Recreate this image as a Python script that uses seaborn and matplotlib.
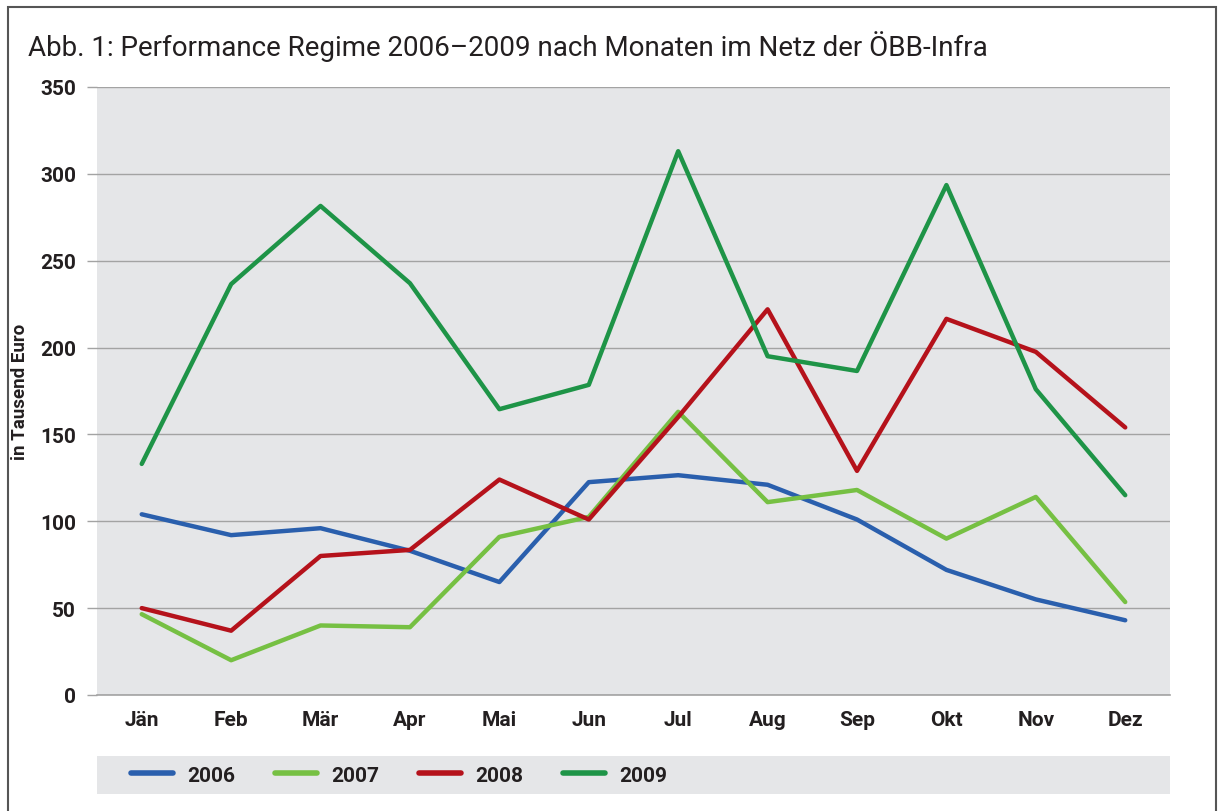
import numpy as np
import pandas as pd
import seaborn as sns
import matplotlib.pyplot as plt
from matplotlib.lines import Line2D
from matplotlib.patches import Rectangle

# values (in Tausend Euro)
months = ['Jän', 'Feb', 'Mär', 'Apr', 'Mai', 'Jun', 'Jul', 'Aug', 'Sep', 'Okt', 'Nov', 'Dez']
years = ['2006', '2007', '2008', '2009']
v2006 = [104, 92, 96, 83, 65, 122.5, 126.5, 121, 101, 72, 55, 43]
v2007 = [46.5, 20, 40, 39, 91, 102.5, 163, 111, 118, 90, 114, 53.5]
v2008 = [50, 37, 80, 83.5, 124, 101, 160, 222, 129, 216.5, 197.5, 154]
v2009 = [133, 236.5, 281.5, 237, 164.5, 178.5, 313, 195, 186.5, 293.5, 176, 115]
colors = ['#2a5fad', '#76c043', '#b5121b', '#1e9447']

rows = []
for year, vals in zip(years, [v2006, v2007, v2008, v2009]):
    for m, v in zip(months, vals):
        rows.append({'Monat': m, 'Wert': v, 'Jahr': year})
df = pd.DataFrame(rows)

sns.set_theme(style='white')
plt.rcParams['font.family'] = ['Roboto', 'DejaVu Sans']

fig = plt.figure(figsize=(12.22, 8.12), dpi=100)
ax = fig.add_axes([0.0794, 0.1429, 0.878, 0.7488])
ax.set_facecolor('#e5e6e8')

sns.lineplot(data=df, x='Monat', y='Wert', hue='Jahr', palette=colors,
             linewidth=3.2, ax=ax, legend=False, sort=False)

ax.set_xlim(-0.5, len(months) - 0.5)
ax.set_ylim(0, 350)
ax.set_yticks(np.arange(0, 351, 50))
ax.yaxis.grid(True, color='#a3a3a3', linewidth=1)
ax.set_axisbelow(True)
for s in ['top', 'right', 'left']:
    ax.spines[s].set_visible(False)
ax.spines['bottom'].set_color('#a3a3a3')
ax.spines['bottom'].set_linewidth(1.2)

ax.set_xticks(np.arange(len(months)))
ax.set_xticklabels(months, fontsize=15, fontweight='bold', color='#231f20')
ax.set_xticks(np.arange(len(months) + 1) - 0.5, minor=True)
ax.tick_params(axis='x', which='major', length=0, pad=11)
ax.tick_params(axis='x', which='minor', length=6, color='#a3a3a3', width=1.2)
ax.tick_params(axis='y', length=7, color='#a3a3a3', width=1, labelsize=15, pad=8,
               labelcolor='#231f20', left=True)
for lab in ax.get_yticklabels():
    lab.set_fontweight('bold')
ax.set_xlabel('')
ax.set_ylabel('in Tausend Euro', fontsize=13.5, fontweight='bold', color='#231f20', labelpad=8)

fig.text(0.023, 0.943, 'Abb. 1: Performance Regime 2006–2009 nach Monaten im Netz der ÖBB-Infra',
         fontsize=20, color='#231f20', va='center')

# legend band
lax = fig.add_axes([0.0794, 0.0209, 0.878, 0.0468])
lax.set_facecolor('#e5e6e8')
lax.set_xticks([])
lax.set_yticks([])
for s in lax.spines.values():
    s.set_visible(False)
handles = [Line2D([0], [0], color=c, linewidth=4, solid_capstyle='round') for c in colors]
leg = lax.legend(handles, years, ncol=4, loc='center left', bbox_to_anchor=(0.032, 0.5),
                 frameon=False, borderpad=0, borderaxespad=0, handlelength=2.0,
                 handletextpad=0.7, columnspacing=1.9,
                 prop={'size': 15, 'weight': 'bold'})
for t in leg.get_texts():
    t.set_color('#231f20')

# outer frame
fig.patches.append(Rectangle((0.0065, -0.05), 0.9885, 1.04, transform=fig.transFigure,
                             fill=False, edgecolor='#555555', linewidth=1.5))

fig.savefig('out.png', dpi=100)
